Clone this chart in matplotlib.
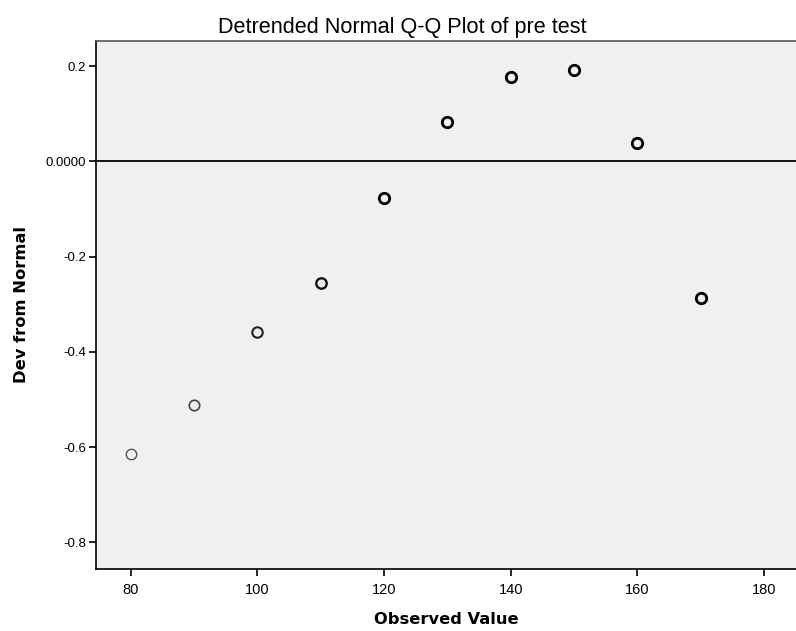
import matplotlib
matplotlib.use("Agg")
import matplotlib.pyplot as plt

observed = [80, 90, 100, 110, 120, 130, 140, 150, 160, 170]
deviation = [-0.614, -0.512, -0.358, -0.255, -0.077, 0.082, 0.177, 0.192, 0.039, -0.287]
edge_widths = [1.0, 1.2, 1.5, 1.7, 2.0, 2.0, 2.0, 2.0, 2.0, 2.0]
edge_colors = ["#555555", "#444444", "#222222", "#111111", "#000000", "#000000",
               "#000000", "#000000", "#000000", "#000000"]

x_ticks = [80, 100, 120, 140, 160, 180]
y_ticks = [0.2, 0.0, -0.2, -0.4, -0.6, -0.8]
y_tick_labels = ["0.2", "0.0000", "-0.2", "-0.4", "-0.6", "-0.8"]

plt.rcParams['font.family'] = ['Liberation Sans', 'DejaVu Sans']

fig = plt.figure(figsize=(7.96, 6.31), dpi=100)
ax = fig.add_axes([0.1206, 0.0983, 0.8794, 0.8367])
ax.set_facecolor("#f0f0f0")

ax.axhline(0.0, color="black", linewidth=1.3, zorder=1)
for x, y, lw, ec in zip(observed, deviation, edge_widths, edge_colors):
    ax.plot([x], [y], marker="o", markersize=7.5, markerfacecolor="none",
            markeredgecolor=ec, markeredgewidth=lw, linestyle="none", zorder=3)

ax.set_xlim(74.5, 185.05)
ax.set_ylim(-0.856, 0.253)
ax.set_xticks(x_ticks)
ax.set_xticklabels([str(t) for t in x_ticks], fontsize=10.5)
ax.set_yticks(y_ticks)
ax.set_yticklabels(y_tick_labels, fontsize=9.5)

ax.tick_params(axis="both", direction="out", length=5, width=1.2, colors="black")
ax.tick_params(axis="x", pad=5)
ax.tick_params(axis="y", pad=2)
for side in ["left", "bottom", "top"]:
    ax.spines[side].set_linewidth(1.2)
ax.spines["right"].set_visible(False)
ax.spines["top"].set_color("#555555")

ax.set_xlabel("Observed Value", fontsize=11.7, fontweight="bold",
              family=["DejaVu Sans"], labelpad=11)
ax.set_ylabel("Dev from Normal", fontsize=11.8, fontweight="bold",
              family=["DejaVu Sans"], labelpad=12)
fig.text(0.505, 0.957, "Detrended Normal Q-Q Plot of pre test", ha="center", va="center",
         fontsize=15.6, family=["Liberation Sans", "DejaVu Sans"])

fig.savefig("out.png", dpi=100)
